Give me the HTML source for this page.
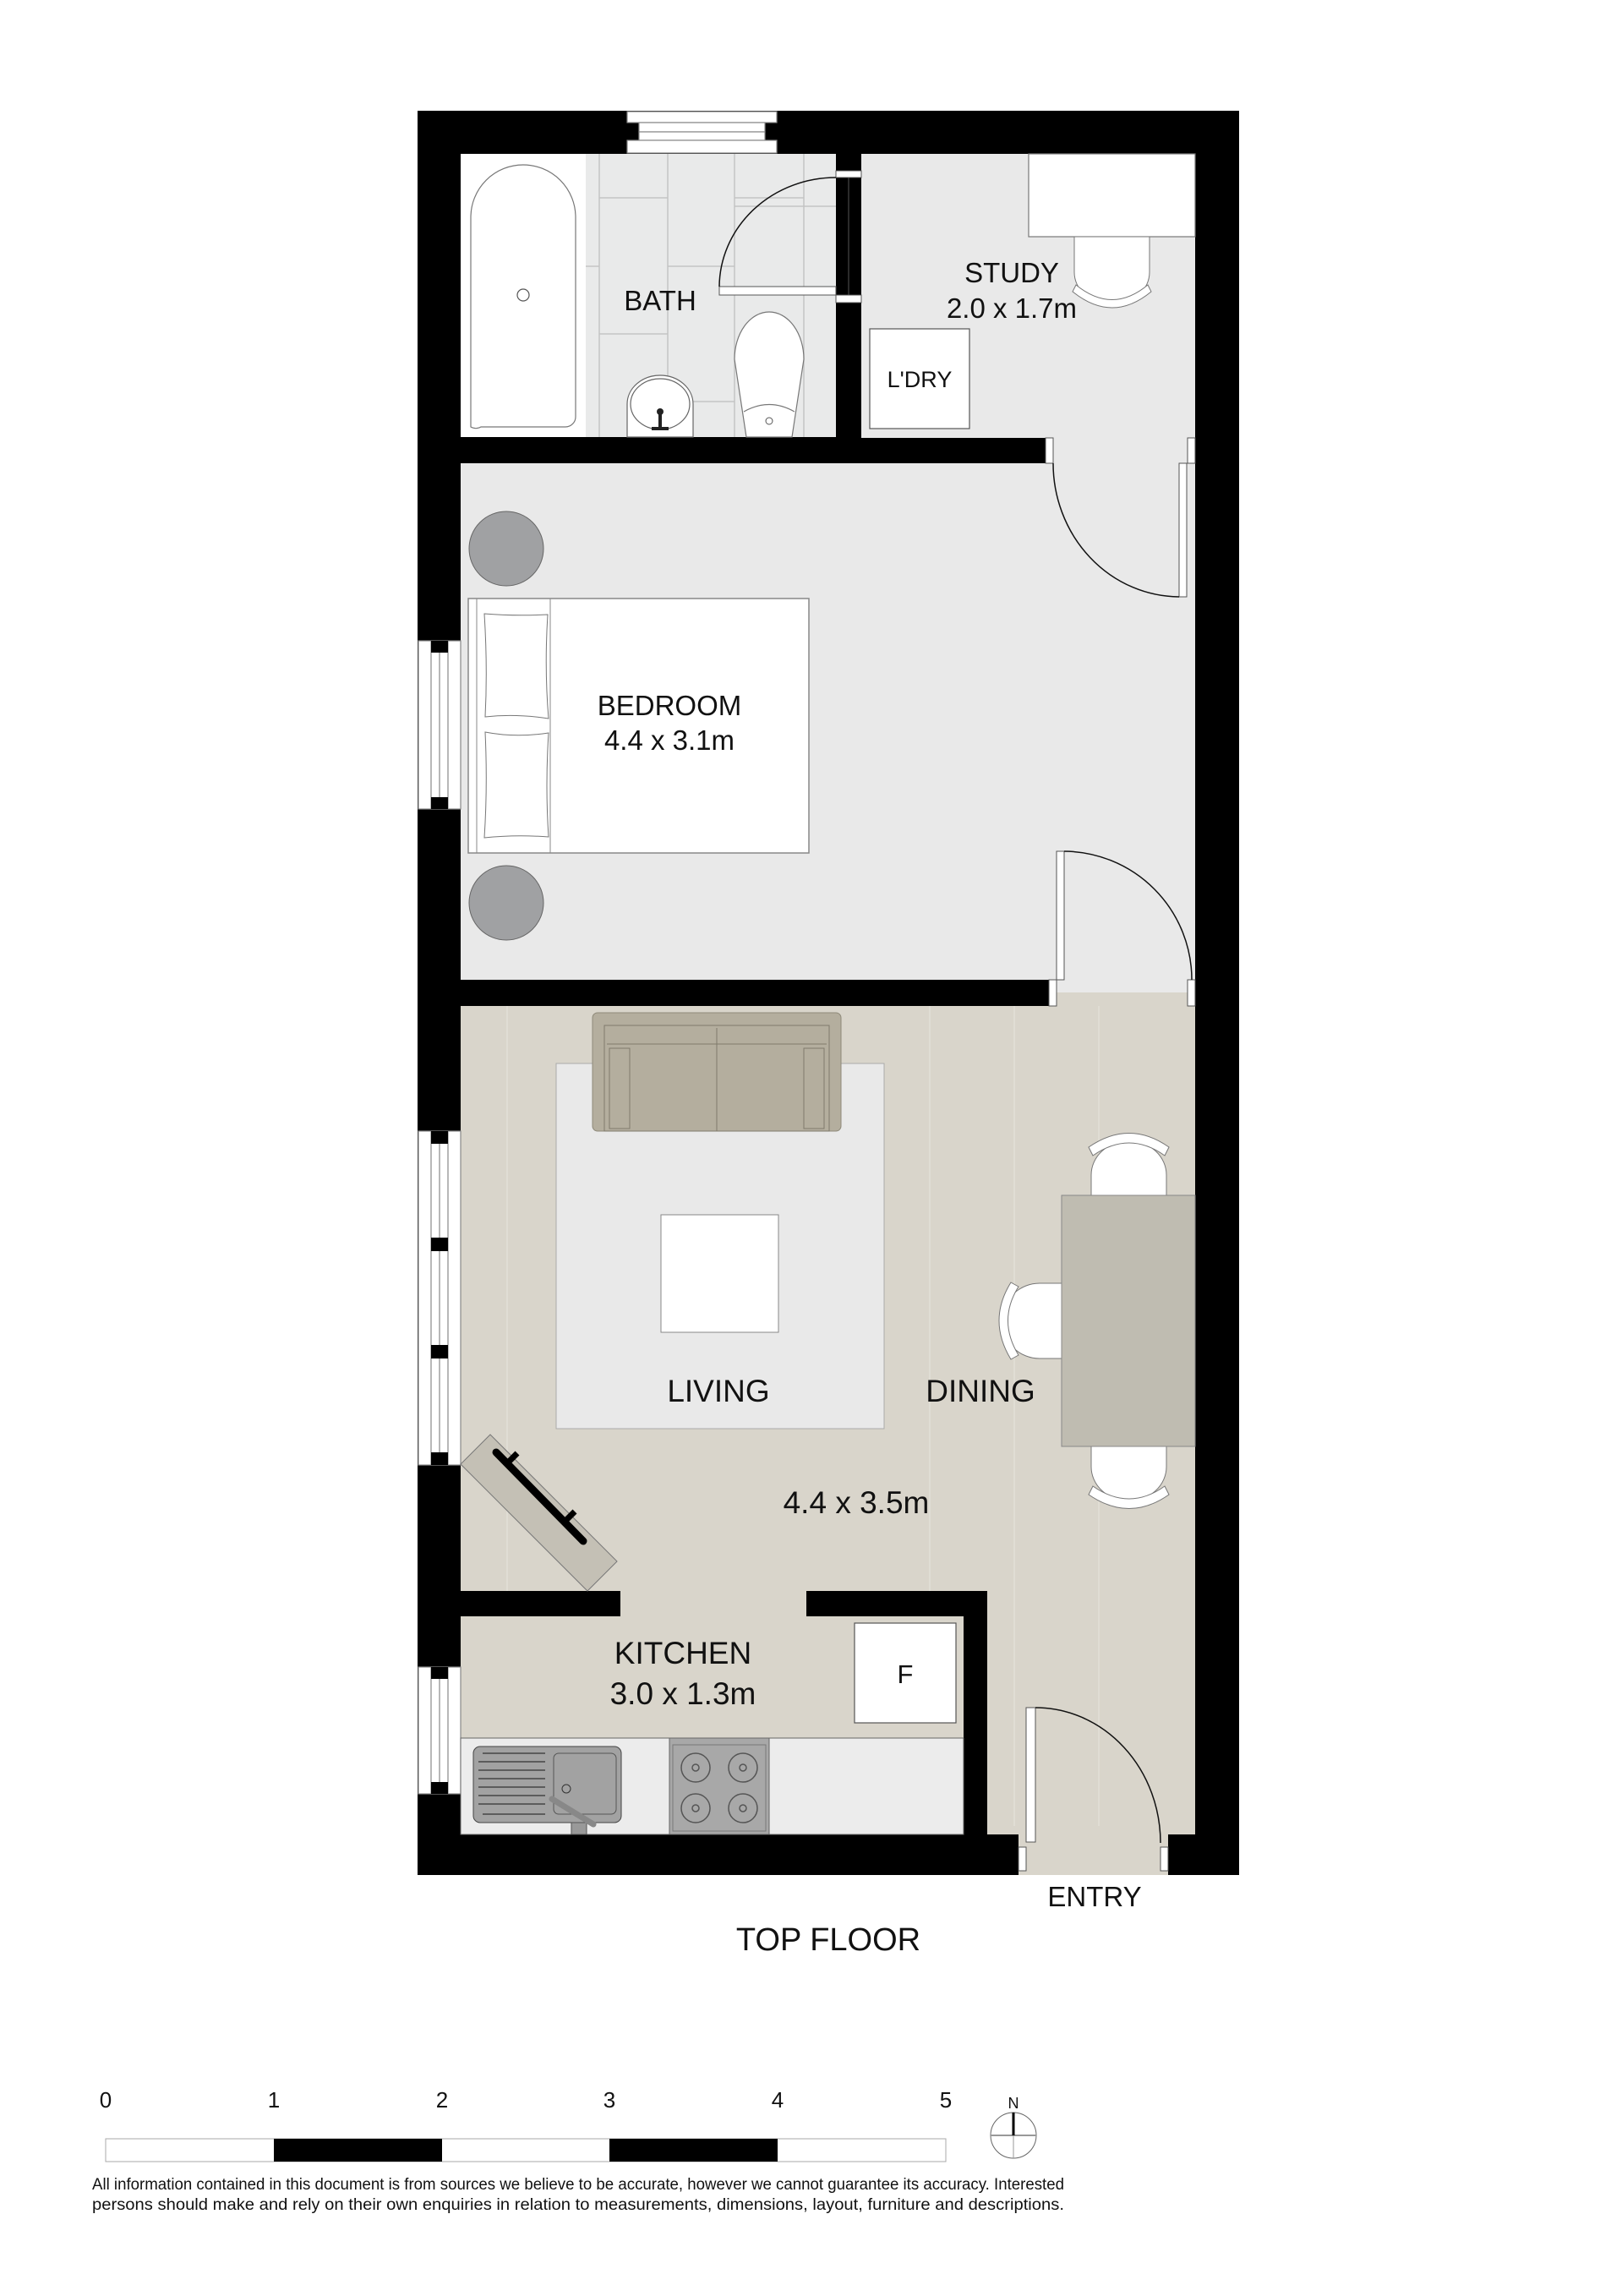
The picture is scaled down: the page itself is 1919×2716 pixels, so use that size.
<!DOCTYPE html>
<html><head><meta charset="utf-8"><style>
html,body{margin:0;padding:0;background:#fff;}
svg{display:block;}
text{font-family:"Liberation Sans",sans-serif;fill:#111;}
</style></head><body>
<svg width="1919" height="2716" viewBox="0 0 1919 2716" xmlns="http://www.w3.org/2000/svg">
<rect width="1919" height="2716" fill="#fff"/>
<rect x="494" y="131" width="972" height="2087" fill="#000"/>
<rect x="545" y="182" width="444" height="335" fill="#e9eaea"/>
<rect x="545" y="182" width="148" height="335" fill="#fff"/>
<g stroke="#c4c4c4" stroke-width="1.5" fill="none">
<line x1="709" y1="182" x2="709" y2="517"/><line x1="790" y1="182" x2="790" y2="517"/><line x1="869" y1="182" x2="869" y2="517"/><line x1="951" y1="182" x2="951" y2="517"/>
<line x1="709" y1="234" x2="790" y2="234"/><line x1="790" y1="315" x2="869" y2="315"/><line x1="709" y1="395" x2="790" y2="395"/><line x1="869" y1="234" x2="951" y2="234"/><line x1="869" y1="244" x2="989" y2="244"/><line x1="790" y1="475" x2="869" y2="475"/><line x1="693" y1="315" x2="709" y2="315"/>
</g>
<rect x="1019" y="182" width="395" height="336" fill="#e9e9e9"/>
<rect x="545" y="548" width="869" height="611" fill="#e9e9e9"/>
<rect x="1241" y="518" width="173" height="656" fill="#e9e9e9"/>
<rect x="545" y="1190" width="869" height="692" fill="#d9d5cb"/>
<rect x="1250" y="1174" width="164" height="20" fill="#d9d5cb"/>
<rect x="1168" y="1880" width="246" height="290" fill="#d9d5cb"/>
<rect x="545" y="1912" width="595" height="150" fill="#d9d5cb"/>
<rect x="734" y="1878" width="220" height="40" fill="#d9d5cb"/>
<rect x="1205" y="2160" width="177" height="58" fill="#d9d5cb"/>
<rect x="545" y="518" width="696" height="30" fill="#000"/>
<rect x="989" y="358" width="30" height="160" fill="#000"/>
<rect x="989" y="182" width="30" height="20" fill="#000"/>
<rect x="545" y="1159" width="696" height="31" fill="#000"/>
<rect x="545" y="1882" width="189" height="30" fill="#000"/>
<rect x="954" y="1882" width="214" height="30" fill="#000"/>
<rect x="1140" y="1882" width="28" height="288" fill="#000"/>
<rect x="545" y="2170" width="660" height="48" fill="#000"/>
<rect x="1382" y="2172" width="84" height="46" fill="#000"/>
<g stroke="#888" stroke-width="1.2" fill="#fff">
<rect x="742" y="132" width="177" height="13"/><rect x="756" y="145" width="149" height="11"/><rect x="756" y="156" width="149" height="10"/><rect x="742" y="166" width="177" height="15"/>
</g>
<g stroke="#888" stroke-width="1.2" fill="#fff">
<rect x="495" y="758" width="50" height="199"/>
<line x1="510" y1="758" x2="510" y2="957"/><line x1="520" y1="758" x2="520" y2="957"/><line x1="530" y1="758" x2="530" y2="957"/>
<rect x="495" y="1338" width="50" height="395"/>
<line x1="510" y1="1338" x2="510" y2="1733"/><line x1="520" y1="1338" x2="520" y2="1733"/><line x1="530" y1="1338" x2="530" y2="1733"/>
<rect x="495" y="1972" width="50" height="150"/>
<line x1="510" y1="1972" x2="510" y2="2122"/><line x1="520" y1="1972" x2="520" y2="2122"/><line x1="530" y1="1972" x2="530" y2="2122"/>
</g>
<g fill="#000">
<rect x="510" y="758" width="20" height="14"/><rect x="510" y="943" width="20" height="14"/>
<rect x="510" y="1338" width="20" height="15"/><rect x="510" y="1464" width="20" height="16"/><rect x="510" y="1591" width="20" height="16"/><rect x="510" y="1718" width="20" height="15"/>
<rect x="510" y="1972" width="20" height="14"/><rect x="510" y="2108" width="20" height="14"/>
</g>
<path d="M557 505 V257 A62 62 0 0 1 681 257 V493 A12 12 0 0 1 669 505 H569 A12 12 0 0 1 557 505 Z" fill="#fff" stroke="#777" stroke-width="1.2"/>
<circle cx="619" cy="349" r="7" fill="none" stroke="#555" stroke-width="1.2"/>
<path d="M869 425 A41 56 0 0 1 951 425 L937 517 H883 Z" fill="#fff" stroke="#777" stroke-width="1.2"/>
<path d="M880 487 Q910 470 940 487" fill="none" stroke="#777" stroke-width="1.2"/>
<circle cx="910" cy="498" r="4" fill="none" stroke="#555"/>
<path d="M742 517 V478 A39 34 0 0 1 820 478 V517 Z" fill="#fff" stroke="#666" stroke-width="1.2"/>
<ellipse cx="781" cy="478" rx="35" ry="30" fill="none" stroke="#666" stroke-width="1.2"/>
<rect x="779" y="487" width="4" height="22" fill="#222"/><circle cx="781" cy="487" r="4" fill="#222"/><rect x="771" y="505" width="20" height="4" fill="#222"/>
<rect x="989" y="202" width="30" height="8" fill="#fff" stroke="#555"/>
<rect x="989" y="349" width="30" height="9" fill="#fff" stroke="#555"/>
<rect x="851" y="339" width="138" height="10" fill="#fff" stroke="#555"/>
<line x1="1004" y1="210" x2="1004" y2="349" stroke="#555"/>
<path d="M851 339 A138 130 0 0 1 989 210" fill="none" stroke="#111" stroke-width="1.5"/>
<rect x="1217" y="182" width="197" height="98" fill="#fff" stroke="#777" stroke-width="1.2"/>
<path d="M1271 280 V322 A44 38 0 0 0 1360 322 V280 Z" fill="#fff" stroke="#777"/>
<path d="M1273 337 Q1316 372 1358 337 L1362 345 Q1316 383 1269 345 Z" fill="#fff" stroke="#777"/>
<rect x="1029" y="389" width="118" height="118" fill="#fff" stroke="#555" stroke-width="1.2"/>
<text x="1088" y="458" font-size="27" text-anchor="middle">L'DRY</text>
<text x="1197" y="334" font-size="33" text-anchor="middle">STUDY</text>
<text x="1197" y="376" font-size="33" text-anchor="middle">2.0 x 1.7m</text>
<text x="781" y="367" font-size="33" text-anchor="middle">BATH</text>
<rect x="1237" y="518" width="9" height="30" fill="#fff" stroke="#555"/>
<rect x="1405" y="518" width="9" height="30" fill="#fff" stroke="#555"/>
<rect x="1395" y="548" width="9" height="158" fill="#fff" stroke="#555"/>
<path d="M1246 548 A150 158 0 0 0 1395 706" fill="none" stroke="#111" stroke-width="1.5"/>
<circle cx="599" cy="649" r="44" fill="#a0a1a3" stroke="#666"/>
<circle cx="599" cy="1068" r="44" fill="#a0a1a3" stroke="#666"/>
<rect x="554" y="708" width="403" height="301" fill="#fff" stroke="#888" stroke-width="1.5"/>
<line x1="564" y1="708" x2="564" y2="1009" stroke="#888"/>
<line x1="651" y1="708" x2="651" y2="1009" stroke="#888"/>
<path d="M573 726 Q610 729 648 727 Q644 790 649 850 Q610 844 574 848 Q577 790 573 726Z" fill="#fff" stroke="#777"/>
<path d="M574 866 Q610 873 649 867 Q645 930 649 990 Q610 987 573 991 Q577 930 574 866Z" fill="#fff" stroke="#777"/>
<text x="792" y="846" font-size="33" text-anchor="middle">BEDROOM</text>
<text x="792" y="887" font-size="33" text-anchor="middle">4.4 x 3.1m</text>
<rect x="1241" y="1159" width="9" height="31" fill="#fff" stroke="#555"/>
<rect x="1405" y="1159" width="9" height="31" fill="#fff" stroke="#555"/>
<rect x="1250" y="1007" width="9" height="152" fill="#fff" stroke="#555"/>
<path d="M1259 1007 A152 152 0 0 1 1410 1159" fill="none" stroke="#111" stroke-width="1.5"/>
<g stroke="#e0ddd4" stroke-width="2">
<line x1="600" y1="1190" x2="600" y2="1882"/><line x1="1100" y1="1190" x2="1100" y2="1882"/><line x1="1200" y1="1190" x2="1200" y2="2160"/><line x1="1300" y1="1190" x2="1300" y2="2160"/>
</g>
<rect x="658" y="1258" width="388" height="432" fill="#e9e9e9" stroke="#aaa" stroke-width="1"/>
<rect x="701" y="1198" width="294" height="140" rx="6" fill="#b4ae9e" stroke="#8e8979"/>
<rect x="715" y="1213" width="266" height="125" fill="none" stroke="#7f7a6c"/>
<line x1="848" y1="1216" x2="848" y2="1338" stroke="#7f7a6c"/>
<line x1="718" y1="1235" x2="978" y2="1235" stroke="#7f7a6c"/>
<rect x="721" y="1240" width="24" height="95" fill="none" stroke="#7f7a6c"/>
<rect x="951" y="1240" width="24" height="95" fill="none" stroke="#7f7a6c"/>
<rect x="782" y="1437" width="139" height="139" fill="#fff" stroke="#888"/>
<text x="850" y="1658" font-size="37" text-anchor="middle">LIVING</text>
<text x="1160" y="1658" font-size="37" text-anchor="middle">DINING</text>
<text x="1013" y="1790" font-size="37" text-anchor="middle">4.4 x 3.5m</text>
<path d="M1291 1414 V1390 A44 40 0 0 1 1380 1390 V1414 Z" fill="#fff" stroke="#777"/>
<path d="M1293 1367 Q1336 1337 1378 1367 L1383 1357 Q1336 1324 1288 1357 Z" fill="#fff" stroke="#777"/>
<path d="M1291 1711 V1735 A44 40 0 0 0 1380 1735 V1711 Z" fill="#fff" stroke="#777"/>
<path d="M1293 1758 Q1336 1788 1378 1758 L1383 1768 Q1336 1801 1288 1768 Z" fill="#fff" stroke="#777"/>
<path d="M1256 1518 H1230 A44 44 0 0 0 1230 1607 H1256 Z" fill="#fff" stroke="#777"/>
<path d="M1205 1522 Q1180 1562 1205 1603 L1196 1608 Q1168 1562 1196 1517 Z" fill="#fff" stroke="#777"/>
<rect x="1256" y="1414" width="158" height="297" fill="#bfbcb1" stroke="#888"/>
<polygon points="580,1697 730,1847 695,1882 545,1732" fill="#c4c0b5" stroke="#777"/>
<line x1="587" y1="1718" x2="690" y2="1823" stroke="#000" stroke-width="9" stroke-linecap="round"/>
<line x1="597" y1="1734" x2="612" y2="1719" stroke="#000" stroke-width="7"/>
<line x1="665" y1="1803" x2="680" y2="1788" stroke="#000" stroke-width="7"/>
<rect x="1011" y="1920" width="120" height="118" fill="#fff" stroke="#555" stroke-width="1.2"/>
<text x="1071" y="1991" font-size="31" text-anchor="middle">F</text>
<text x="808" y="1968" font-size="37" text-anchor="middle">KITCHEN</text>
<text x="808" y="2016" font-size="37" text-anchor="middle">3.0 x 1.3m</text>
<rect x="545" y="2056" width="595" height="114" fill="#ececec" stroke="#666" stroke-width="1"/>
<rect x="560" y="2066" width="175" height="90" rx="8" fill="#a2a2a2" stroke="#444"/>
<rect x="655" y="2074" width="74" height="72" rx="6" fill="#a2a2a2" stroke="#555"/>
<g stroke="#444" stroke-width="1.5">
<line x1="571" y1="2074" x2="645" y2="2074"/><line x1="566" y1="2084" x2="645" y2="2084"/><line x1="566" y1="2094" x2="645" y2="2094"/><line x1="566" y1="2104" x2="645" y2="2104"/><line x1="566" y1="2114" x2="645" y2="2114"/><line x1="566" y1="2124" x2="645" y2="2124"/><line x1="566" y1="2134" x2="645" y2="2134"/><line x1="571" y1="2146" x2="645" y2="2146"/>
</g>
<circle cx="670" cy="2116" r="5" fill="none" stroke="#333"/>
<rect x="676" y="2156" width="18" height="14" fill="#999" stroke="#555"/>
<line x1="653" y1="2128" x2="702" y2="2158" stroke="#888" stroke-width="7" stroke-linecap="round"/>
<rect x="792" y="2056" width="118" height="114" fill="#a8a8a8" stroke="#666"/>
<rect x="796" y="2064" width="110" height="102" fill="none" stroke="#777"/>
<g fill="none" stroke="#555" stroke-width="1.5">
<circle cx="823" cy="2091" r="17"/><circle cx="879" cy="2091" r="17"/><circle cx="823" cy="2139" r="17"/><circle cx="879" cy="2139" r="17"/>
<circle cx="823" cy="2091" r="4"/><circle cx="879" cy="2091" r="4"/><circle cx="823" cy="2139" r="4"/><circle cx="879" cy="2139" r="4"/>
</g>
<rect x="1205" y="2185" width="9" height="28" fill="#fff" stroke="#555"/>
<rect x="1373" y="2185" width="9" height="28" fill="#fff" stroke="#555"/>
<rect x="1214" y="2020" width="11" height="159" fill="#fff" stroke="#555"/>
<path d="M1225 2020 A148 160 0 0 1 1373 2180" fill="none" stroke="#111" stroke-width="1.5"/>
<text x="1295" y="2255" font-size="33" text-anchor="middle">ENTRY</text>
<text x="980" y="2307" font-size="38" text-anchor="middle">TOP FLOOR</text>
<g font-size="26" text-anchor="middle">
<text x="125" y="2493">0</text><text x="324" y="2493">1</text><text x="523" y="2493">2</text><text x="721" y="2493">3</text><text x="920" y="2493">4</text><text x="1119" y="2493">5</text>
</g>
<rect x="125" y="2530" width="994" height="27" fill="#fff" stroke="#aaa"/>
<rect x="324" y="2530" width="199" height="27" fill="#000"/>
<rect x="721" y="2530" width="199" height="27" fill="#000"/>
<text x="1199" y="2494" font-size="18" text-anchor="middle">N</text>
<circle cx="1199" cy="2526" r="27" fill="#fff" stroke="#666"/>
<line x1="1172" y1="2526" x2="1226" y2="2526" stroke="#999" stroke-width="2"/>
<line x1="1199" y1="2526" x2="1199" y2="2553" stroke="#999"/>
<line x1="1199" y1="2499" x2="1199" y2="2526" stroke="#000" stroke-width="3"/>
<text x="109" y="2590" font-size="19" textLength="1150" lengthAdjust="spacingAndGlyphs">All information contained in this document is from sources we believe to be accurate, however we cannot guarantee its accuracy. Interested</text>
<text x="109" y="2614" font-size="19" textLength="1150" lengthAdjust="spacingAndGlyphs">persons should make and rely on their own enquiries in relation to measurements, dimensions, layout, furniture and descriptions.</text>
</svg>
</body></html>
